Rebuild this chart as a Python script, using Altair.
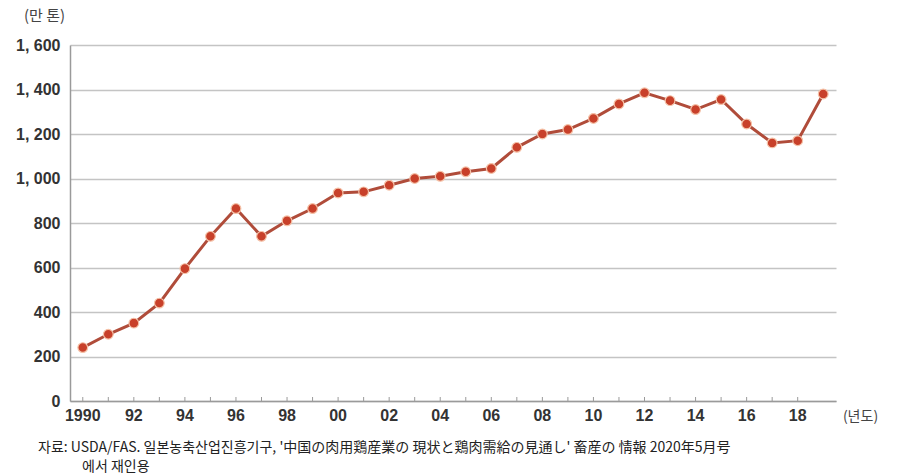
import altair as alt
import pandas as pd

years = list(range(1990, 2020))
values = [240, 300, 350, 440, 595, 740, 865, 740, 810, 865,
          935, 940, 970, 1000, 1010, 1030, 1045, 1140, 1200, 1220,
          1270, 1335, 1385, 1350, 1310, 1355, 1245, 1160, 1170, 1380]
y_ticks = [0, 200, 400, 600, 800, 1000, 1200, 1400, 1600]
y_unit = "(만 톤)"
x_unit = "(년도)"
source_lines = [
    "자료: USDA/FAS. 일본농축산업진흥기구, '中国の肉用鶏産業の 現状と鶏肉需給の見通し' 畜産の 情報  2020年5月号",
    "에서 재인용",
]

FONT = "Noto Sans CJK KR"
NUMFONT = "Liberation Sans"
W, H = 766, 356

df = pd.DataFrame({"year": years, "value": values})

x = alt.X(
    "year:O",
    scale=alt.Scale(paddingInner=0, paddingOuter=0),
    axis=alt.Axis(
        title=x_unit, titleX=790, titleY=15, titleAngle=0,
        titleAlign="center", titleBaseline="middle",
        titleFontSize=14, titleFontWeight="normal", titleColor="#444",
        titleFont=FONT,
        labelExpr="datum.value % 2 == 1 ? '' : (datum.value == 1990 ? '1990' : slice(toString(datum.value), 2))",
        labelAngle=0, labelFontSize=16, labelFont=NUMFONT, labelFontWeight="bold",
        labelColor="#333", labelPadding=6,
        ticks=False, domainColor="#9a9a9a", domainWidth=1.5, grid=False,
    ),
)
y = alt.Y(
    "value:Q",
    scale=alt.Scale(domain=[0, 1600], nice=False),
    axis=alt.Axis(
        values=y_ticks,
        title=y_unit, titleX=-26, titleY=-30, titleAngle=0,
        titleAlign="center", titleBaseline="middle",
        titleFontSize=15, titleFontWeight="normal", titleColor="#444",
        titleFont=FONT,
        labelExpr="replace(format(datum.value, ','), ',', ', ')",
        labelFontSize=16, labelFont=NUMFONT, labelFontWeight="bold",
        labelColor="#333", labelPadding=10,
        ticks=False, domainColor="#9a9a9a", domainWidth=1.5,
        grid=True, gridColor="#c4c4c4", gridWidth=1.5,
    ),
)

base = alt.Chart(df)
line = base.mark_line(color="#b04c3a", strokeWidth=3).encode(x=x, y=y)
pts = base.mark_circle(size=95, color="#c8402a", opacity=1,
                       stroke="#f5c2a8", strokeWidth=1.2).encode(x="year:O", y="value:Q")
ticks = alt.Chart(df[df.year > 1990]).mark_rule(color="#9a9a9a", strokeWidth=1).encode(
    x=alt.X("year:O"),
    xOffset=alt.value(-W / len(years) / 2),
    y=alt.value(H - 4), y2=alt.value(H),
)

layers = [line, ticks, pts]
offsets = [(-32, 403), (12, 422)]
for txt, (ox, oy) in zip(source_lines, offsets):
    layers.append(
        alt.Chart(pd.DataFrame({"t": [txt]})).mark_text(
            align="left", baseline="middle", fontSize=14, font=FONT, color="#222"
        ).encode(text="t:N", x=alt.value(ox), y=alt.value(oy))
    )

chart = alt.layer(*layers).properties(
    width=W, height=H,
    autosize=alt.AutoSizeParams(type="none"),
    padding={"left": 70, "top": 45, "right": 63, "bottom": 74},
    background="white",
).configure_view(stroke=None)

chart.save("out.html", embed_options={"renderer": "svg", "actions": False})
